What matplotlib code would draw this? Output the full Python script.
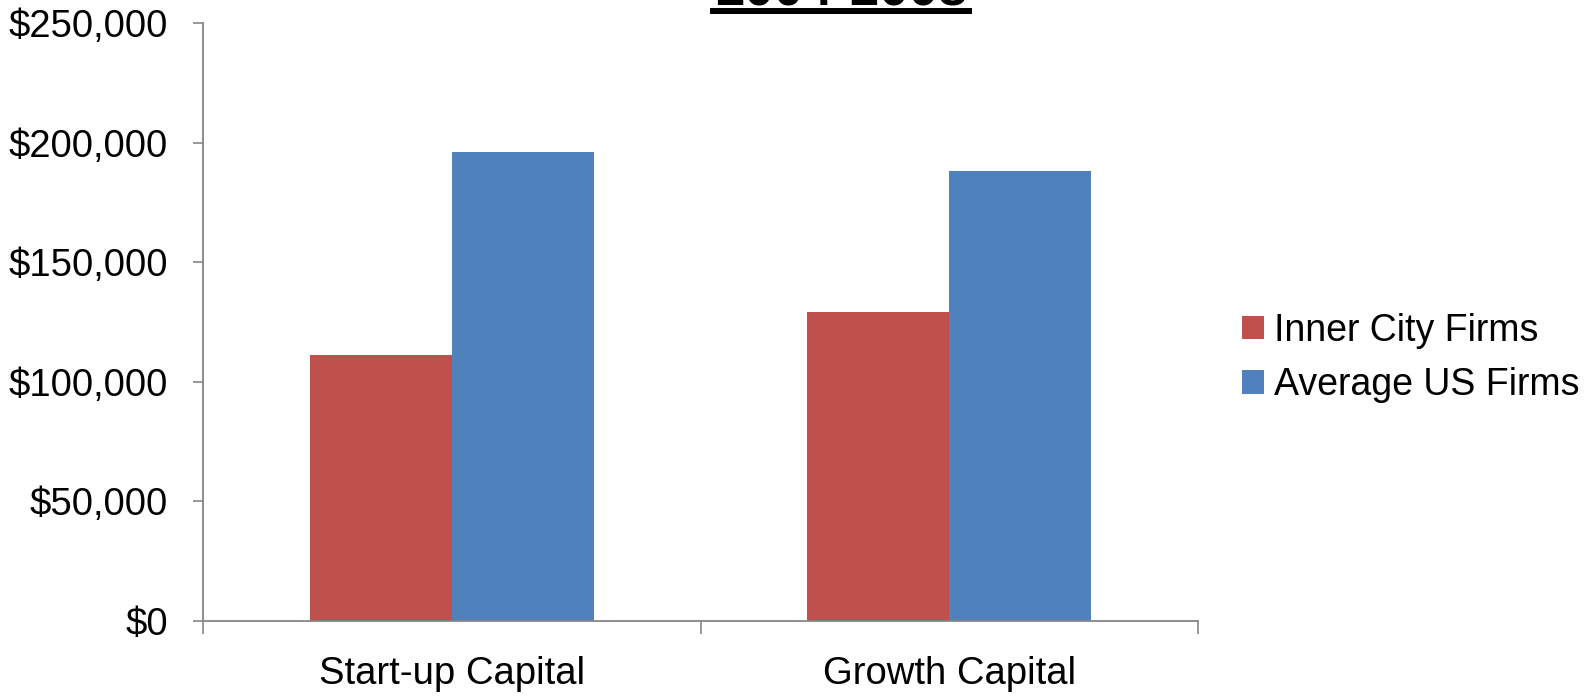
import numpy as np
import matplotlib
matplotlib.use('Agg')
import matplotlib.pyplot as plt
import matplotlib.ticker as mticker
from matplotlib.lines import Line2D

plt.rcParams.update({
    'font.family': ['Liberation Sans', 'DejaVu Sans'],
    'font.size': 27.5,
})

# Median capital raised per firm
categories = ['Start-up Capital', 'Growth Capital']
series_names = ['Inner City Firms', 'Average US Firms']
inner_city = [111000, 129000]
average_us = [196000, 188000]
title_text = '2004-2008'

C_RED = '#C0504D'
C_BLUE = '#4F81BD'
C_AXIS = '#868686'

W, H = 1585, 697
fig = plt.figure(figsize=(W / 100, H / 100), dpi=100)
ax = fig.add_axes([203 / W, 1 - 621 / H, (1198 - 203) / W, (621 - 23) / H])

x = np.arange(len(categories))
width = 1 / 3.5
ax.bar(x - width / 2, inner_city, width, color=C_RED, label=series_names[0])
ax.bar(x + width / 2, average_us, width, color=C_BLUE, label=series_names[1])

ax.set_xlim(-0.5, len(categories) - 0.5)
ax.set_ylim(0, 250000)
ax.yaxis.set_major_locator(mticker.MultipleLocator(50000))
ax.yaxis.set_major_formatter(mticker.FuncFormatter(lambda v, _: f'${v:,.0f}'))

ax.set_xticks(x)
ax.set_xticklabels(categories)
ax.set_xticks(np.arange(len(categories) + 1) - 0.5, minor=True)
ax.tick_params(axis='x', which='major', length=0, pad=25)
ax.tick_params(axis='x', which='minor', length=9, width=1.2, color=C_AXIS, direction='out')
ax.tick_params(axis='y', length=7, width=1.2, color=C_AXIS, direction='out', pad=18)

for side in ['top', 'right']:
    ax.spines[side].set_visible(False)
for side in ['left', 'bottom']:
    ax.spines[side].set_color(C_AXIS)
    ax.spines[side].set_linewidth(1.3)

leg = fig.legend(loc='center left', bbox_to_anchor=(1208 / W, 1 - 358 / H),
                 frameon=False, handlelength=0.6, handleheight=0.6,
                 handletextpad=0.25, labelspacing=0.5, fontsize=27)

# Bold underlined title, clipped at the top edge
fig.text(841 / W, 1 - 5 / H, title_text, ha='center', va='baseline',
         fontsize=38, fontweight='bold')
fig.add_artist(Line2D([713 / W, 969 / W], [1 - 11 / H, 1 - 11 / H],
                      transform=fig.transFigure, color='black', lw=4.3))

fig.savefig('out.png', dpi=100)
